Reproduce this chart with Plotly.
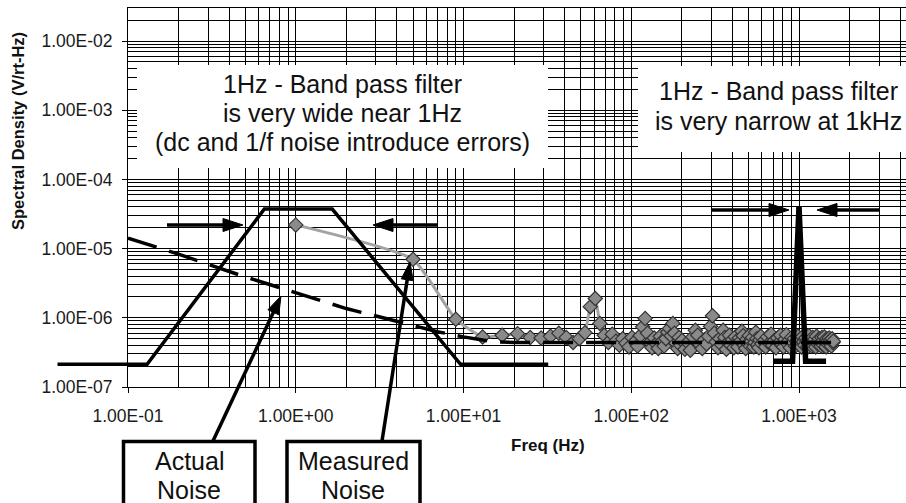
import plotly.graph_objects as go

# ---------------- data ----------------
actual_freq = [0.038, 0.13, 0.65, 1.65, 9.6, 32.0]
actual_val = [2.13e-7, 2.13e-7, 3.73e-5, 3.73e-5, 2.13e-7, 2.13e-7]

peak_freq = [700, 915, 1000, 1095, 1450]
peak_val = [2.35e-7, 2.35e-7, 4.1e-5, 2.35e-7, 2.35e-7]

flicker_freq = [0.1, 0.2, 0.5, 1, 2, 4, 7, 10, 15, 20, 1600]
flicker_val = [1.42e-5, 8.3e-6, 3.9e-6, 2.3e-6, 1.36e-6, 8.9e-7, 6.3e-7, 5.3e-7, 4.5e-7, 4.4e-7, 4.4e-7]

meas_freq = [
    1, 5, 9, 13, 17, 21, 25, 29, 33, 37, 41, 45, 49, 53, 57, 61, 65, 69, 73, 77,
    81, 85, 89, 93, 97, 101, 105, 109, 113, 117, 121, 125, 129, 133, 137, 141, 145, 149,
    153, 157, 161, 165, 169, 173, 177, 181, 185, 189, 193, 197, 201,
    209, 217, 225, 233, 241, 249, 257, 265, 273, 281, 289, 297, 305, 313, 321, 329, 337,
    345, 353, 361, 369, 377, 385, 393, 401, 409, 417, 425, 433, 441, 449, 457, 465, 473,
    481, 489, 497, 505, 513, 521, 529, 537, 545, 553, 561, 569, 577, 585, 593, 601,
    617, 633, 649, 665, 681, 697, 713, 729, 745, 761, 777, 793, 809, 825, 841, 857, 873,
    889, 905, 921, 937, 953, 969, 985, 1001, 1017, 1033, 1049, 1065, 1081, 1097, 1113,
    1129, 1145, 1161, 1177, 1193, 1209, 1225, 1241, 1257, 1273, 1289, 1305, 1321, 1337,
    1353, 1369, 1385, 1401, 1417, 1433, 1449, 1465, 1481, 1497, 1513, 1529, 1545, 1561,
    1577, 1593, 1601,
]
meas_val = [
    2.2e-5, 7.0e-6, 9.5e-7, 5.3e-7, 5.6e-7, 5.9e-7, 5.2e-7, 5.1e-7, 5.4e-7, 6.0e-7,
    5.2e-7, 4.4e-7, 5.0e-7, 6.1e-7, 1.45e-6, 1.9e-6, 8.3e-7, 5.6e-7, 4.4e-7, 5.8e-7,
    4.6e-7, 4.0e-7, 5.0e-7, 4.3e-7, 3.8e-7, 5.2e-7, 4.5e-7, 3.9e-7, 5.5e-7, 7.4e-7,
    9.8e-7, 6.0e-7, 4.4e-7, 3.7e-7, 5.1e-7, 4.2e-7, 3.6e-7, 5.4e-7, 4.6e-7, 3.9e-7,
    5.0e-7, 6.2e-7, 7.0e-7, 5.5e-7, 8.3e-7, 6.0e-7, 4.3e-7, 3.6e-7, 5.2e-7, 4.0e-7,
    4.7e-7,
    3.5e-7, 4.4e-7, 3.4e-7, 5.3e-7, 6.6e-7, 5.6e-7, 4.1e-7, 3.6e-7, 4.8e-7, 4.2e-7,
    5.4e-7, 7.5e-7, 1.07e-6, 6.0e-7, 4.5e-7, 3.7e-7, 5.0e-7, 4.1e-7, 6.6e-7, 5.2e-7,
    3.5e-7, 4.4e-7, 5.6e-7, 4.0e-7, 4.8e-7, 3.7e-7, 5.3e-7, 4.3e-7, 3.8e-7, 5.1e-7,
    4.6e-7, 6.4e-7, 5.5e-7, 4.0e-7, 3.6e-7, 4.9e-7, 4.3e-7, 5.5e-7, 3.9e-7, 4.6e-7,
    5.2e-7, 3.8e-7, 4.4e-7, 6.2e-7, 5.0e-7, 4.1e-7, 3.7e-7, 4.8e-7, 5.4e-7, 4.2e-7,
    4.6e-7, 3.8e-7, 5.3e-7, 4.3e-7, 5.8e-7, 4.0e-7, 4.7e-7, 3.7e-7, 5.1e-7, 4.4e-7,
    5.6e-7, 4.1e-7, 3.8e-7, 4.9e-7, 5.7e-7, 4.2e-7, 4.7e-7, 3.7e-7, 5.2e-7, 4.4e-7,
    5.0e-7, 3.9e-7, 4.6e-7, 5.4e-7, 4.3e-7, 4.9e-7, 3.8e-7, 5.3e-7, 4.5e-7, 4.0e-7,
    5.1e-7, 4.6e-7, 3.8e-7, 5.5e-7, 4.2e-7, 4.8e-7, 3.9e-7, 5.2e-7, 4.4e-7, 4.9e-7,
    3.8e-7, 5.4e-7, 4.5e-7, 4.1e-7, 5.0e-7, 4.3e-7, 3.9e-7, 5.2e-7, 4.6e-7, 4.0e-7,
    5.3e-7, 4.4e-7, 3.8e-7, 5.0e-7, 4.6e-7, 4.1e-7, 5.1e-7, 4.3e-7, 4.8e-7, 3.9e-7,
    5.0e-7, 4.4e-7, 4.6e-7,
]

x_tick_vals = [0.1, 1, 10, 100, 1000]
x_tick_text = ["1.00E-01", "1.00E+00", "1.00E+01", "1.00E+02", "1.00E+03"]
y_tick_vals = [1e-7, 1e-6, 1e-5, 1e-4, 1e-3, 1e-2]
y_tick_text = ["1.00E-07", "1.00E-06", "1.00E-05", "1.00E-04", "1.00E-03", "1.00E-02"]
minor_mult = [2, 3, 4, 5, 6, 7, 8, 9]
x_minor_vals = [m * d for d in [0.1, 1, 10, 100, 1000] for m in minor_mult]
y_minor_vals = [m * d for d in [1e-7, 1e-6, 1e-5, 1e-4, 1e-3, 1e-2] for m in minor_mult]

# ---------------- geometry ----------------
W, H = 906, 503
ML, MR, MT, MB = 40, 0, 8, 116
AXIS_LEFT_PX = 128
PX_PER_DEC_X = 167.75
PX_PER_DEC_Y = 69.2
PLOT_W = W - ML - MR
PLOT_H = H - MT - MB
x_hi = -1 + (W - MR - AXIS_LEFT_PX) / PX_PER_DEC_X
x_lo_ext = -1 - (AXIS_LEFT_PX - ML) / PX_PER_DEC_X
y_hi = -7 + PLOT_H / PX_PER_DEC_Y

FONT = "Liberation Sans, Arial, sans-serif"


def px(xp):
    return (xp - ML) / PLOT_W


def py(yp):
    return (H - MB - yp) / PLOT_H


fig = go.Figure()

fig.add_trace(go.Scatter(
    x=meas_freq, y=meas_val, mode="lines+markers", xaxis="x", yaxis="y",
    line=dict(color="#a3a3a3", width=3, shape="spline", smoothing=0.45),
    marker=dict(symbol="diamond", size=11, color="#8a8a8a",
                line=dict(color="#333333", width=1.2)),
    showlegend=False, hoverinfo="skip"))

fig.add_trace(go.Scatter(
    x=flicker_freq, y=flicker_val, mode="lines", xaxis="x", yaxis="y",
    line=dict(color="black", width=3.5, dash="30px,13px"),
    showlegend=False, hoverinfo="skip"))

fig.add_trace(go.Scatter(
    x=actual_freq, y=actual_val, mode="lines", xaxis="x2", yaxis="y2",
    line=dict(color="black", width=3.5),
    showlegend=False, hoverinfo="skip"))

fig.add_trace(go.Scatter(
    x=peak_freq, y=peak_val, mode="lines", xaxis="x2", yaxis="y2",
    line=dict(color="black", width=5.5),
    showlegend=False, hoverinfo="skip"))

tickfont = dict(family=FONT, size=17.5, color="#1a1a1a")

fig.update_layout(
    width=W, height=H,
    margin=dict(l=ML, r=MR, t=MT, b=MB),
    paper_bgcolor="white", plot_bgcolor="rgba(0,0,0,0)",
    xaxis=dict(
        type="log", range=[-1, x_hi], domain=[px(AXIS_LEFT_PX), 1], anchor="y",
        tickmode="array", tickvals=x_tick_vals, ticktext=x_tick_text,
        showgrid=True, gridcolor="black", gridwidth=1,
        ticks="outside", ticklen=5, tickcolor="black", tickwidth=1,
        tickfont=tickfont, ticklabelstandoff=8,
        showline=True, linecolor="black", linewidth=1, mirror=True,
        minor=dict(tickmode="array", tickvals=x_minor_vals, showgrid=True,
                   gridcolor="black", gridwidth=1, ticks=""),
        zeroline=False, fixedrange=True,
    ),
    yaxis=dict(
        type="log", range=[-7, y_hi], domain=[0, 1], anchor="x",
        tickmode="array", tickvals=y_tick_vals, ticktext=y_tick_text,
        showgrid=True, gridcolor="black", gridwidth=1,
        ticks="outside", ticklen=5, tickcolor="black", tickwidth=1,
        tickfont=tickfont, ticklabelstandoff=6,
        showline=True, linecolor="black", linewidth=1,
        minor=dict(tickmode="array", tickvals=y_minor_vals, showgrid=True,
                   gridcolor="black", gridwidth=1, ticks=""),
        zeroline=False, fixedrange=True,
    ),
    xaxis2=dict(type="log", range=[x_lo_ext, x_hi], domain=[0, 1], anchor="y2",
                visible=False, fixedrange=True),
    yaxis2=dict(type="log", range=[-7, y_hi], domain=[0, 1], anchor="x2",
                visible=False, fixedrange=True),
)

shapes = []
# white text boxes covering the grid
shapes.append(dict(type="rect", xref="paper", yref="paper", layer="above",
                   x0=px(137), x1=px(548), y0=py(168), y1=py(65),
                   fillcolor="white", line=dict(width=0)))
shapes.append(dict(type="rect", xref="paper", yref="paper", layer="above",
                   x0=px(638), x1=px(W + 2), y0=py(152), y1=py(66),
                   fillcolor="white", line=dict(width=0)))
# call-out boxes under the plot
shapes.append(dict(type="rect", xref="paper", yref="paper", layer="above",
                   x0=px(123.5), x1=px(255), y0=py(530), y1=py(441.5),
                   fillcolor="white", line=dict(color="black", width=3.5)))
shapes.append(dict(type="rect", xref="paper", yref="paper", layer="above",
                   x0=px(287), x1=px(420), y0=py(530), y1=py(441.5),
                   fillcolor="white", line=dict(color="black", width=3.5)))


def arrow(tail, tip, head_len=20, head_w=13, width=3.5):
    (x0, y0), (x1, y1) = tail, tip
    dx, dy = x1 - x0, y1 - y0
    n = (dx * dx + dy * dy) ** 0.5
    ux, uy = dx / n, dy / n
    bx, by = x1 - ux * head_len, y1 - uy * head_len
    nx, ny = -uy, ux
    shapes.append(dict(type="line", xref="paper", yref="paper", layer="above",
                       x0=px(x0), y0=py(y0), x1=px(bx + ux * 2), y1=py(by + uy * 2),
                       line=dict(color="black", width=width)))
    pts = [(x1, y1), (bx + nx * head_w / 2, by + ny * head_w / 2),
           (bx - nx * head_w / 2, by - ny * head_w / 2)]
    path = "M " + " L ".join(f"{px(a):.5f},{py(b):.5f}" for a, b in pts) + " Z"
    shapes.append(dict(type="path", xref="paper", yref="paper", layer="above",
                       path=path, fillcolor="black", line=dict(color="black", width=1)))


arrow((167, 225), (243, 225))
arrow((437, 225), (373, 225))
arrow((712, 210), (789, 210))
arrow((880, 210), (817, 210))
arrow((213, 441), (281, 296), head_len=18, head_w=12)
arrow((382, 441), (410, 262), head_len=18, head_w=12)

fig.update_layout(shapes=shapes)

anns = []


def text(t, cx, cy, size, bold=False, angle=0):
    anns.append(dict(text=f"<b>{t}</b>" if bold else t, xref="paper", yref="paper",
                     x=px(cx), y=py(cy), xanchor="center", yanchor="middle",
                     showarrow=False, textangle=angle,
                     font=dict(family=FONT, size=size, color="#111111")))


text("1Hz - Band pass filter", 342, 84, 25)
text("is very wide near 1Hz", 342, 113, 25)
text("(dc and 1/f noise introduce errors)", 342, 142, 25)
text("1Hz - Band pass filter", 778, 91, 25)
text("is very narrow at 1kHz", 778, 121, 25)
text("Actual", 189, 461, 25)
text("Noise", 189, 490, 25)
text("Measured", 353, 461, 25)
text("Noise", 353, 490, 25)
text("Freq (Hz)", 548, 445, 17, bold=True)
text("Spectral Density (V/rt-Hz)", 18, 131, 16.5, bold=True, angle=-90)

fig.update_layout(annotations=anns)

fig.write_html("out.html")
